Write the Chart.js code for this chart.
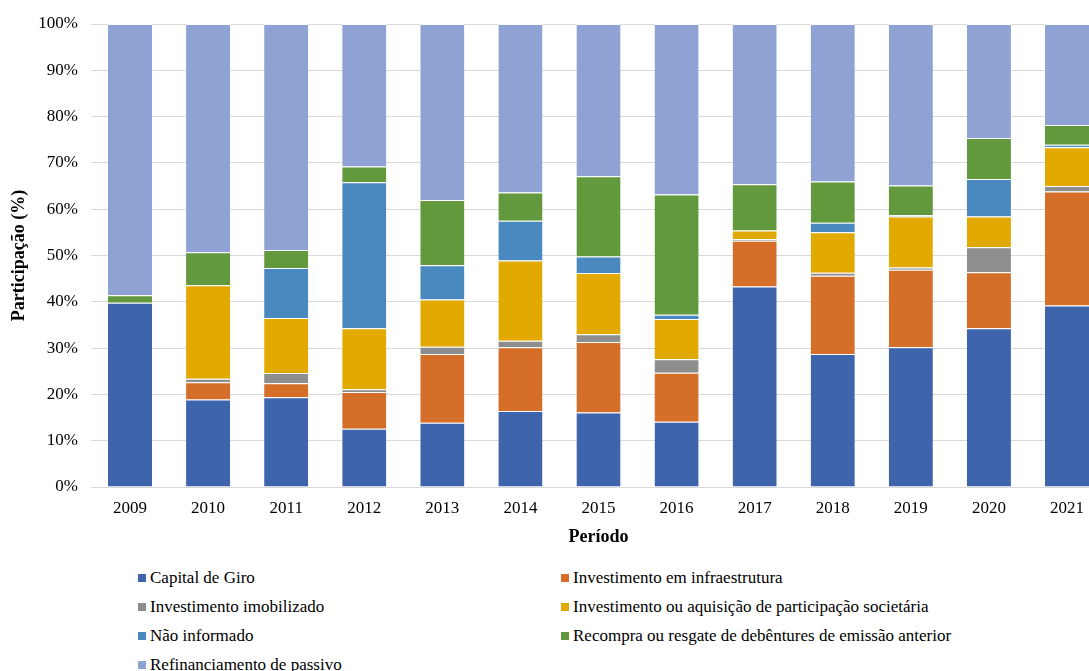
<!DOCTYPE html>
<html>
<head>
<meta charset="utf-8">
<script src="https://cdn.jsdelivr.net/npm/chart.js@4.4.0/dist/chart.umd.min.js"></script>
<style>
    html, body { margin: 0; padding: 0; background: #fff; overflow: hidden; }
    #wrap { position: relative; width: 1106px; height: 671px; }
    #legend {
        position: absolute; left: 138px; top: 566px;
        display: grid; grid-template-columns: 423px 480px; row-gap: 5px;
        font-family: "Liberation Serif", serif; font-size: 17px; color: #000;
    }
    #legend div { height: 24px; line-height: 24px; white-space: nowrap; }
    #legend span { display: inline-block; width: 8px; height: 8px; margin-right: 4px; vertical-align: 1px; }
</style>
</head>
<body>
<div id="wrap">
    <canvas id="debentures" width="1106" height="552"></canvas>
    <div id="legend"></div>
</div>
<script>
    "use strict";

    var anos = ["2009", "2010", "2011", "2012", "2013", "2014", "2015", "2016", "2017", "2018", "2019", "2020", "2021"];

    var capitalGiro    = [39.8, 18.9, 19.4, 12.6, 13.9, 16.4, 16.1, 14.1, 43.3, 28.7, 30.2, 34.3, 39.2];
    var infraestrutura = [0, 3.7, 3.0, 7.9, 14.8, 13.8, 15.2, 10.6, 9.9, 16.9, 16.7, 12.1, 24.6];
    var imobilizado    = [0, 0.8, 2.2, 0.6, 1.6, 1.4, 1.7, 2.9, 0.3, 0.7, 0.5, 5.4, 1.2];
    var participacao   = [0, 20.2, 11.9, 13.2, 10.2, 17.3, 13.2, 8.7, 1.9, 8.7, 11.0, 6.6, 8.4];
    var naoInformado   = [0, 0, 10.8, 31.5, 7.4, 8.6, 3.6, 0.9, 0, 2.1, 0.3, 8.1, 0.5];
    var recompra       = [1.6, 7.1, 3.9, 3.4, 14.1, 6.1, 17.3, 26.0, 10.0, 8.9, 6.4, 8.9, 4.3];
    var refinanciamento = [58.6, 49.3, 48.8, 30.8, 38.0, 36.4, 32.9, 36.8, 34.6, 34.0, 34.9, 24.6, 21.8];

    var yTicks = [0, 10, 20, 30, 40, 50, 60, 70, 80, 90, 100];

    var serie = function (label, data, cor) {
        return {
            label: label,
            data: data,
            backgroundColor: cor,
            borderColor: "rgba(255, 255, 255, 0.85)",
            borderWidth: {top: 1, bottom: 0, left: 0, right: 0},
            borderSkipped: false,
            barPercentage: 0.565,
            categoryPercentage: 1
        };
    };

    // Global font
    Chart.defaults.font.family = "'Liberation Serif', serif";
    Chart.defaults.color = "#000";

    // Stacked bar chart
    var ctx = document.getElementById("debentures").getContext("2d");
    var myChart = new Chart(ctx, {
        type: "bar",
        data: {
            labels: anos,
            datasets: [
                serie("Capital de Giro", capitalGiro, "#3E64AC"),
                serie("Investimento em infraestrutura", infraestrutura, "#D46E28"),
                serie("Investimento imobilizado", imobilizado, "#8E8E8E"),
                serie("Investimento ou aquisição de participação societária", participacao, "#E2AA00"),
                serie("Não informado", naoInformado, "#4A88C0"),
                serie("Recompra ou resgate de debêntures de emissão anterior", recompra, "#62993C"),
                serie("Refinanciamento de passivo", refinanciamento, "#8FA2D4")
            ]
        },
        options: {
            responsive: false,
            animation: false,
            layout: {padding: {top: 24, right: 0, bottom: 0, left: 0}},
            plugins: {
                legend: {display: false},
                tooltip: {enabled: false}
            },
            scales: {
                x: {
                    stacked: true,
                    grid: {display: false, drawTicks: false},
                    border: {display: true, color: "#D9D9D9"},
                    ticks: {padding: 11, font: {size: 17}},
                    title: {display: true, text: "Período", padding: {top: 4, bottom: 4},
                        font: {size: 18, weight: "bold"}},
                    afterFit: function (scale) { scale.height = 65; }
                },
                y: {
                    stacked: true,
                    min: 0,
                    max: 100,
                    grid: {color: "#D9D9D9", drawTicks: false},
                    border: {display: false},
                    afterBuildTicks: function (scale) {
                        scale.ticks = yTicks.map(function (v) { return {value: v}; });
                    },
                    ticks: {
                        padding: 13, font: {size: 17},
                        callback: function (v) { return v + "%"; }
                    },
                    title: {display: true, text: "Participação (%)", padding: {top: 9, bottom: 4},
                        font: {size: 18, weight: "bold"}},
                    afterFit: function (scale) { scale.width = 91; }
                }
            }
        }
    });


    // Legend in two columns
    var legenda = document.getElementById("legend");
    myChart.data.datasets.forEach(function (ds) {
        var item = document.createElement("div");
        var box = document.createElement("span");
        box.style.background = ds.backgroundColor;
        item.appendChild(box);
        item.appendChild(document.createTextNode(ds.label));
        legenda.appendChild(item);
    });
</script>
</body>
</html>
